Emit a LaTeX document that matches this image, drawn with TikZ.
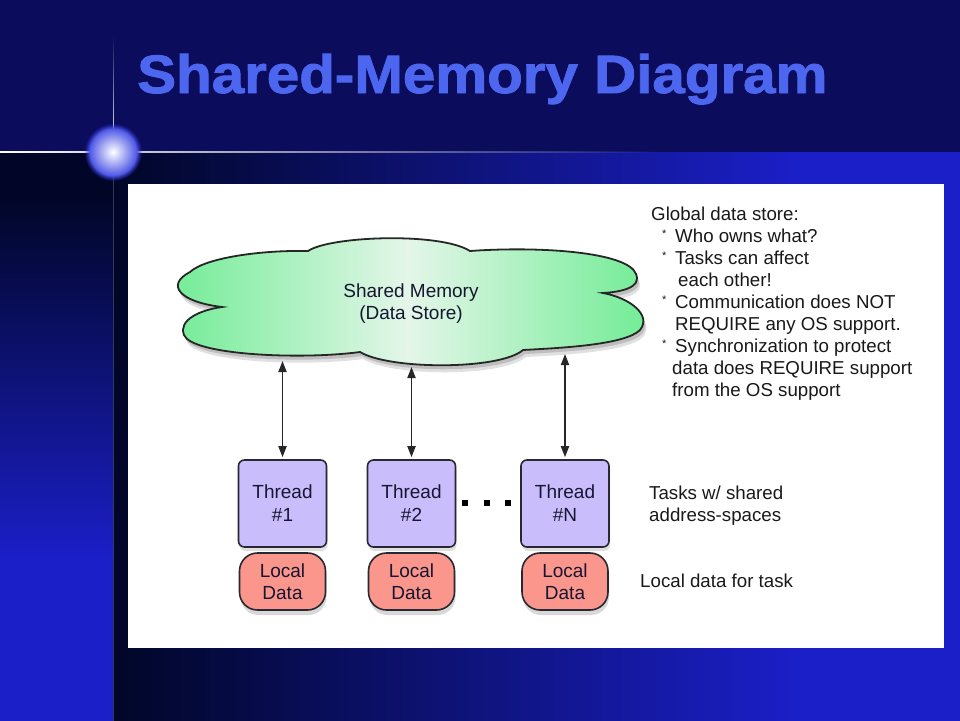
\documentclass[tikz,border=0pt]{standalone}
\usepackage{fontspec}
\setmainfont{Liberation Sans}
\newfontfamily\titlefont[BoldFeatures={FakeBold=1.6}]{Liberation Sans}
\usetikzlibrary{arrows.meta,shadows,fadings}

\definecolor{navy}{RGB}{12,12,92}
\definecolor{brightblue}{RGB}{27,31,200}
\definecolor{darkl}{RGB}{1,6,40}
\definecolor{titleblue}{RGB}{76,102,240}
\definecolor{cgreen}{RGB}{112,236,148}
\definecolor{cpale}{RGB}{228,246,233}
\definecolor{threadfill}{RGB}{201,190,251}
\definecolor{localfill}{RGB}{250,150,140}
\definecolor{boxline}{RGB}{40,40,50}
\definecolor{txt}{RGB}{22,22,50}

\tikzfading[name=fadeR, left color=transparent!0, right color=transparent!100]
\tikzfading[name=fadeUp, top color=transparent!100, bottom color=transparent!0]

\newcommand\bul{\makebox[13pt][l]{\raisebox{5pt}{\fontsize{11}{11}\selectfont*}}}

\begin{document}
\begin{tikzpicture}[x=1pt,y=-1pt,
  cloudshape/.style={insert path={
    (222,307) .. controls (180,302) and (165,285) .. (190,272)
    .. controls (205,258) and (260,250) .. (308,251)
    .. controls (330,236) and (440,232) .. (470,251)
    .. controls (540,246) and (628,252) .. (636,274)
    .. controls (642,288) and (620,292) .. (603,293)
    .. controls (630,298) and (652,315) .. (640,330)
    .. controls (625,345) and (560,348) .. (523,350)
    .. controls (500,370) and (390,370) .. (360,352)
    .. controls (300,360) and (192,355) .. (184,335)
    .. controls (178,320) and (200,310) .. (222,307) -- cycle}},
  txtfont/.style={font=\fontsize{19}{23}\selectfont, text=txt},
  thread/.style={draw=boxline, line width=1.6pt, fill=threadfill, rounded corners=6pt,
    minimum width=88pt, minimum height=87pt, align=center, inner sep=0pt, txtfont,
    drop shadow={opacity=0.25, shadow xshift=1pt, shadow yshift=-4pt}},
  localbox/.style={draw=boxline, line width=1.6pt, fill=localfill, rounded corners=18pt,
    minimum width=86pt, minimum height=57pt, align=center, inner sep=0pt,
    font=\fontsize{19}{22}\selectfont, text=txt,
    drop shadow={opacity=0.3, shadow xshift=1pt, shadow yshift=-5pt}},
  note/.style={anchor=north west, inner sep=0pt, align=left,
    font=\fontsize{18.7}{22.1}\selectfont, text=black!90},
  conn/.style={{Triangle[length=11pt,width=8pt]}-{Triangle[length=11pt,width=8pt]},
    line width=1.8pt, draw=black!85}
]
\useasboundingbox (0,0) rectangle (960,720);

% background
\fill[navy] (0,0) rectangle (960,152);
\fill[brightblue] (0,152) rectangle (960,730);
\shade[left color=darkl, right color=brightblue] (113,152) rectangle (800,730);
\fill[darkl] (0,152) rectangle (113,200);
\shade[top color=darkl, bottom color=brightblue] (0,199) rectangle (113,560);
\fill[white, path fading=fadeR] (0,151.3) rectangle (660,152.7);
\fill[white, path fading=fadeUp] (112.5,35) rectangle (113.5,152);
\fill[white, opacity=0.2] (112.5,152) rectangle (113.5,730);
\shade[inner color=white, outer color={rgb,255:red,40;green,50;blue,225},
  path fading=circle with fuzzy edge 20 percent] (113,152) circle (29);

% title
\node[anchor=base west, inner sep=0pt, text=titleblue,
  font=\titlefont\fontsize{54}{60}\selectfont\bfseries] (title) at (137,93)
  {\scalebox{1.08}[1]{Shared-Memory Diagram}};

% panel
\fill[white] (128,184) rectangle (944,648);

% cloud
\fill[black, opacity=0.12, shift={(3,7)}, cloudshape];
\fill[black, opacity=0.15, shift={(2,4)}, cloudshape];
\shade[left color=cgreen, right color=cgreen, middle color=cpale,
  draw=black!85, line width=1.8pt, cloudshape];
\node[txtfont, align=center, font=\fontsize{19}{22}\selectfont] (mem) at (411,303.5)
  {Shared Memory\\(Data Store)};

% threads
\node[thread] (t1) at (282.5,503.5) {Thread\\\#1};
\node[thread] (t2) at (411.5,503.5) {Thread\\\#2};
\node[thread] (t3) at (565,503.5) {Thread\\\#N};

\node[localbox] (l1) at (282.5,581.5) {Local\\Data};
\node[localbox] (l2) at (411.5,581.5) {Local\\Data};
\node[localbox] (l3) at (565,581.5) {Local\\Data};

% dots
\fill[black] (462,500) rectangle (468,506);
\fill[black] (484,500) rectangle (490,506);
\fill[black] (505,500) rectangle (511,506);

% connectors
\coordinate (m1) at (282.5,361);
\coordinate (m2) at (411.5,367);
\coordinate (m3) at (565,354);
\draw[conn, shorten >=2pt] (m1) -- (t1.north);
\draw[conn, shorten >=2pt] (m2) -- (t2.north);
\draw[conn, shorten >=2pt] (m3) -- (t3.north);

% notes
\node[note] (global) at (651,206.4) {Global data store:\\
\hspace*{11pt}\bul Who owns what?\\
\hspace*{11pt}\bul Tasks can affect\\
\hspace*{27pt}each other!\\
\hspace*{11pt}\bul Communication does NOT\\
\hspace*{24pt}REQUIRE any OS support.\\
\hspace*{11pt}\bul Synchronization to protect\\
\hspace*{21pt}data does REQUIRE support\\
\hspace*{21pt}from the OS support};
\node[note] (tasks) at (649,485.6) {Tasks w/ shared\\address-spaces};
\node[note] (ldata) at (640,574) {Local data for task};
\end{tikzpicture}
\end{document}
